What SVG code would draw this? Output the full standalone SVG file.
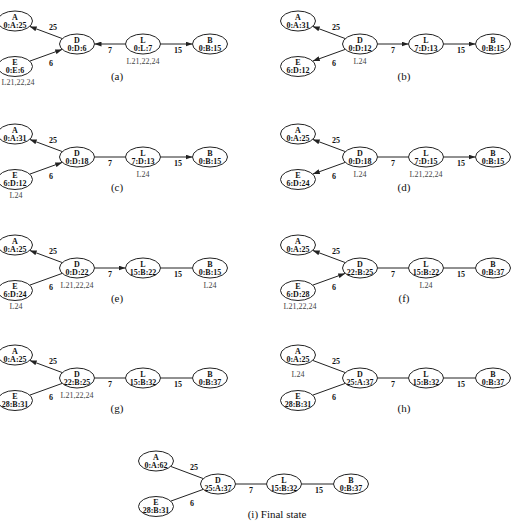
<svg xmlns="http://www.w3.org/2000/svg" width="517" height="527" viewBox="0 0 517 527">
<defs>
<marker id="arr" viewBox="0 0 7 5" refX="7" refY="2.5" markerWidth="7" markerHeight="5" orient="auto" markerUnits="userSpaceOnUse"><path d="M0,0 L7,2.5 L0,5 z" fill="#222"/></marker>
<style>
.node ellipse{fill:#fff;stroke:#222;stroke-width:1}
.nm{font-family:"Liberation Serif",serif;font-size:8px;font-weight:bold;text-anchor:middle;fill:#111}
.sub{font-family:"Liberation Serif",serif;font-size:8px;text-anchor:middle;fill:#444}
.el{font-family:"Liberation Serif",serif;font-size:8px;font-weight:bold;text-anchor:middle;fill:#111}
.cap{font-family:"Liberation Serif",serif;font-size:11px;text-anchor:middle;fill:#111}
.edges line{stroke:#222;stroke-width:1}
.ar{marker-end:url(#arr)}
</style>
</defs>
<rect width="517" height="527" fill="#fff"/>

<!-- (a) -->
<g id="panel-a" transform="translate(0,0)">
<g class="edges">
<line class="ar" x1="62.3" y1="38.6" x2="29.7" y2="26.4"/>
<line class="ar" x1="29.8" y1="61.1" x2="62.2" y2="49.4"/>
<line class="ar" x1="125.5" y1="44" x2="94.5" y2="44"/>
<line class="ar" x1="160.5" y1="44" x2="192.5" y2="44"/>
<text class="el" x="53" y="30">25</text><text class="el" x="51" y="65.5">6</text><text class="el" x="110" y="53">7</text><text class="el" x="178" y="53">15</text>
</g>
<g id="a-A" class="node"><ellipse cx="15" cy="21" rx="17.5" ry="10"/><text class="nm" x="15" y="19.5">A</text><text class="nm" x="15" y="27.5">0:A:25</text></g>
<g id="a-E" class="node"><ellipse cx="15" cy="66.5" rx="17.5" ry="10"/><text class="nm" x="15" y="65">E</text><text class="nm" x="15" y="73">0:E:6</text><text class="sub" x="18" y="85">L21,22,24</text></g>
<g id="a-D" class="node"><ellipse cx="77" cy="44" rx="17.5" ry="10"/><text class="nm" x="77" y="42.5">D</text><text class="nm" x="77" y="50.5">0:D:6</text></g>
<g id="a-L" class="node"><ellipse cx="143" cy="44" rx="17.5" ry="10"/><text class="nm" x="143" y="42.5">L</text><text class="nm" x="143" y="50.5">0:L:7</text><text class="sub" x="143" y="64">L21,22,24</text></g>
<g id="a-B" class="node"><ellipse cx="210" cy="44" rx="17.5" ry="10"/><text class="nm" x="210" y="42.5">B</text><text class="nm" x="210" y="50.5">0:B:15</text></g>
<text class="cap" x="117" y="80">(a)</text>
</g>

<!-- (b) -->
<g id="panel-b" transform="translate(283,0)">
<g class="edges">
<line class="ar" x1="62.3" y1="38.6" x2="29.7" y2="26.4"/>
<line class="ar" x1="62.2" y1="49.4" x2="29.8" y2="61.1"/>
<line class="ar" x1="94.5" y1="44" x2="125.5" y2="44"/>
<line class="ar" x1="160.5" y1="44" x2="192.5" y2="44"/>
<text class="el" x="53" y="30">25</text><text class="el" x="51" y="65.5">6</text><text class="el" x="110" y="53">7</text><text class="el" x="178" y="53">15</text>
</g>
<g id="b-A" class="node"><ellipse cx="15" cy="21" rx="17.5" ry="10"/><text class="nm" x="15" y="19.5">A</text><text class="nm" x="15" y="27.5">0:A:31</text></g>
<g id="b-E" class="node"><ellipse cx="15" cy="66.5" rx="17.5" ry="10"/><text class="nm" x="15" y="65">E</text><text class="nm" x="15" y="73">6:D:12</text></g>
<g id="b-D" class="node"><ellipse cx="77" cy="44" rx="17.5" ry="10"/><text class="nm" x="77" y="42.5">D</text><text class="nm" x="77" y="50.5">0:D:12</text><text class="sub" x="77" y="64">L24</text></g>
<g id="b-L" class="node"><ellipse cx="143" cy="44" rx="17.5" ry="10"/><text class="nm" x="143" y="42.5">L</text><text class="nm" x="143" y="50.5">7:D:13</text></g>
<g id="b-B" class="node"><ellipse cx="210" cy="44" rx="17.5" ry="10"/><text class="nm" x="210" y="42.5">B</text><text class="nm" x="210" y="50.5">0:B:15</text></g>
<text class="cap" x="121" y="80">(b)</text>
</g>

<!-- (c) -->
<g id="panel-c" transform="translate(0,113)">
<g class="edges">
<line class="ar" x1="62.3" y1="38.6" x2="29.7" y2="26.4"/>
<line class="ar" x1="29.8" y1="61.1" x2="62.2" y2="49.4"/>
<line x1="94.5" y1="44" x2="125.5" y2="44"/>
<line class="ar" x1="160.5" y1="44" x2="192.5" y2="44"/>
<text class="el" x="53" y="30">25</text><text class="el" x="51" y="65.5">6</text><text class="el" x="110" y="53">7</text><text class="el" x="178" y="53">15</text>
</g>
<g id="c-A" class="node"><ellipse cx="15" cy="21" rx="17.5" ry="10"/><text class="nm" x="15" y="19.5">A</text><text class="nm" x="15" y="27.5">0:A:31</text></g>
<g id="c-E" class="node"><ellipse cx="15" cy="66.5" rx="17.5" ry="10"/><text class="nm" x="15" y="65">E</text><text class="nm" x="15" y="73">6:D:12</text><text class="sub" x="16" y="85">L24</text></g>
<g id="c-D" class="node"><ellipse cx="77" cy="44" rx="17.5" ry="10"/><text class="nm" x="77" y="42.5">D</text><text class="nm" x="77" y="50.5">0:D:18</text></g>
<g id="c-L" class="node"><ellipse cx="143" cy="44" rx="17.5" ry="10"/><text class="nm" x="143" y="42.5">L</text><text class="nm" x="143" y="50.5">7:D:13</text><text class="sub" x="143" y="64">L24</text></g>
<g id="c-B" class="node"><ellipse cx="210" cy="44" rx="17.5" ry="10"/><text class="nm" x="210" y="42.5">B</text><text class="nm" x="210" y="50.5">0:B:15</text></g>
<text class="cap" x="117" y="78">(c)</text>
</g>

<!-- (d) -->
<g id="panel-d" transform="translate(283,113)">
<g class="edges">
<line class="ar" x1="62.3" y1="38.6" x2="29.7" y2="26.4"/>
<line class="ar" x1="62.2" y1="49.4" x2="29.8" y2="61.1"/>
<line x1="94.5" y1="44" x2="125.5" y2="44"/>
<line class="ar" x1="160.5" y1="44" x2="192.5" y2="44"/>
<text class="el" x="53" y="30">25</text><text class="el" x="51" y="65.5">6</text><text class="el" x="110" y="53">7</text><text class="el" x="178" y="53">15</text>
</g>
<g id="d-A" class="node"><ellipse cx="15" cy="21" rx="17.5" ry="10"/><text class="nm" x="15" y="19.5">A</text><text class="nm" x="15" y="27.5">0:A:25</text></g>
<g id="d-E" class="node"><ellipse cx="15" cy="66.5" rx="17.5" ry="10"/><text class="nm" x="15" y="65">E</text><text class="nm" x="15" y="73">6:D:24</text></g>
<g id="d-D" class="node"><ellipse cx="77" cy="44" rx="17.5" ry="10"/><text class="nm" x="77" y="42.5">D</text><text class="nm" x="77" y="50.5">0:D:18</text><text class="sub" x="77" y="64">L24</text></g>
<g id="d-L" class="node"><ellipse cx="143" cy="44" rx="17.5" ry="10"/><text class="nm" x="143" y="42.5">L</text><text class="nm" x="143" y="50.5">7:D:15</text><text class="sub" x="143" y="64">L21,22,24</text></g>
<g id="d-B" class="node"><ellipse cx="210" cy="44" rx="17.5" ry="10"/><text class="nm" x="210" y="42.5">B</text><text class="nm" x="210" y="50.5">0:B:15</text></g>
<text class="cap" x="121" y="78">(d)</text>
</g>

<!-- (e) -->
<g id="panel-e" transform="translate(0,224)">
<g class="edges">
<line class="ar" x1="62.3" y1="38.6" x2="29.7" y2="26.4"/>
<line x1="29.8" y1="61.1" x2="62.2" y2="49.4"/>
<line class="ar" x1="94.5" y1="44" x2="125.5" y2="44"/>
<line x1="160.5" y1="44" x2="192.5" y2="44"/>
<text class="el" x="53" y="30">25</text><text class="el" x="51" y="65.5">6</text><text class="el" x="110" y="53">7</text><text class="el" x="178" y="53">15</text>
</g>
<g id="e-A" class="node"><ellipse cx="15" cy="21" rx="17.5" ry="10"/><text class="nm" x="15" y="19.5">A</text><text class="nm" x="15" y="27.5">0:A:25</text></g>
<g id="e-E" class="node"><ellipse cx="15" cy="66.5" rx="17.5" ry="10"/><text class="nm" x="15" y="65">E</text><text class="nm" x="15" y="73">6:D:24</text><text class="sub" x="16" y="85">L24</text></g>
<g id="e-D" class="node"><ellipse cx="77" cy="44" rx="17.5" ry="10"/><text class="nm" x="77" y="42.5">D</text><text class="nm" x="77" y="50.5">0:D:22</text><text class="sub" x="77" y="64">L21,22,24</text></g>
<g id="e-L" class="node"><ellipse cx="143" cy="44" rx="17.5" ry="10"/><text class="nm" x="143" y="42.5">L</text><text class="nm" x="143" y="50.5">15:B:22</text></g>
<g id="e-B" class="node"><ellipse cx="210" cy="44" rx="17.5" ry="10"/><text class="nm" x="210" y="42.5">B</text><text class="nm" x="210" y="50.5">0:B:15</text><text class="sub" x="210" y="64">L24</text></g>
<text class="cap" x="117" y="78">(e)</text>
</g>

<!-- (f) -->
<g id="panel-f" transform="translate(283,224)">
<g class="edges">
<line class="ar" x1="62.3" y1="38.6" x2="29.7" y2="26.4"/>
<line class="ar" x1="29.8" y1="61.1" x2="62.2" y2="49.4"/>
<line x1="94.5" y1="44" x2="125.5" y2="44"/>
<line x1="160.5" y1="44" x2="192.5" y2="44"/>
<text class="el" x="53" y="30">25</text><text class="el" x="51" y="65.5">6</text><text class="el" x="110" y="53">7</text><text class="el" x="178" y="53">15</text>
</g>
<g id="f-A" class="node"><ellipse cx="15" cy="21" rx="17.5" ry="10"/><text class="nm" x="15" y="19.5">A</text><text class="nm" x="15" y="27.5">0:A:25</text></g>
<g id="f-E" class="node"><ellipse cx="15" cy="66.5" rx="17.5" ry="10"/><text class="nm" x="15" y="65">E</text><text class="nm" x="15" y="73">6:D:28</text><text class="sub" x="17" y="85">L21,22,24</text></g>
<g id="f-D" class="node"><ellipse cx="77" cy="44" rx="17.5" ry="10"/><text class="nm" x="77" y="42.5">D</text><text class="nm" x="77" y="50.5">22:B:25</text></g>
<g id="f-L" class="node"><ellipse cx="143" cy="44" rx="17.5" ry="10"/><text class="nm" x="143" y="42.5">L</text><text class="nm" x="143" y="50.5">15:B:22</text><text class="sub" x="143" y="64">L24</text></g>
<g id="f-B" class="node"><ellipse cx="210" cy="44" rx="17.5" ry="10"/><text class="nm" x="210" y="42.5">B</text><text class="nm" x="210" y="50.5">0:B:37</text></g>
<text class="cap" x="121" y="78">(f)</text>
</g>

<!-- (g) -->
<g id="panel-g" transform="translate(0,334)">
<g class="edges">
<line class="ar" x1="62.3" y1="38.6" x2="29.7" y2="26.4"/>
<line x1="29.8" y1="61.1" x2="62.2" y2="49.4"/>
<line x1="94.5" y1="44" x2="125.5" y2="44"/>
<line x1="160.5" y1="44" x2="192.5" y2="44"/>
<text class="el" x="53" y="30">25</text><text class="el" x="51" y="65.5">6</text><text class="el" x="110" y="53">7</text><text class="el" x="178" y="53">15</text>
</g>
<g id="g-A" class="node"><ellipse cx="15" cy="21" rx="17.5" ry="10"/><text class="nm" x="15" y="19.5">A</text><text class="nm" x="15" y="27.5">0:A:25</text></g>
<g id="g-E" class="node"><ellipse cx="15" cy="66.5" rx="17.5" ry="10"/><text class="nm" x="15" y="65">E</text><text class="nm" x="15" y="73">28:B:31</text></g>
<g id="g-D" class="node"><ellipse cx="77" cy="44" rx="17.5" ry="10"/><text class="nm" x="77" y="42.5">D</text><text class="nm" x="77" y="50.5">22:B:25</text><text class="sub" x="77" y="64">L21,22,24</text></g>
<g id="g-L" class="node"><ellipse cx="143" cy="44" rx="17.5" ry="10"/><text class="nm" x="143" y="42.5">L</text><text class="nm" x="143" y="50.5">15:B:32</text></g>
<g id="g-B" class="node"><ellipse cx="210" cy="44" rx="17.5" ry="10"/><text class="nm" x="210" y="42.5">B</text><text class="nm" x="210" y="50.5">0:B:37</text></g>
<text class="cap" x="117" y="78">(g)</text>
</g>

<!-- (h) -->
<g id="panel-h" transform="translate(283,334)">
<g class="edges">
<line x1="62.3" y1="38.6" x2="29.7" y2="26.4"/>
<line x1="29.8" y1="61.1" x2="62.2" y2="49.4"/>
<line x1="94.5" y1="44" x2="125.5" y2="44"/>
<line x1="160.5" y1="44" x2="192.5" y2="44"/>
<text class="el" x="53" y="30">25</text><text class="el" x="51" y="65.5">6</text><text class="el" x="110" y="53">7</text><text class="el" x="178" y="53">15</text>
</g>
<g id="h-A" class="node"><ellipse cx="15" cy="21" rx="17.5" ry="10"/><text class="nm" x="15" y="19.5">A</text><text class="nm" x="15" y="27.5">0:A:25</text><text class="sub" x="15" y="43">L24</text></g>
<g id="h-E" class="node"><ellipse cx="15" cy="66.5" rx="17.5" ry="10"/><text class="nm" x="15" y="65">E</text><text class="nm" x="15" y="73">28:B:31</text></g>
<g id="h-D" class="node"><ellipse cx="77" cy="44" rx="17.5" ry="10"/><text class="nm" x="77" y="42.5">D</text><text class="nm" x="77" y="50.5">25:A:37</text></g>
<g id="h-L" class="node"><ellipse cx="143" cy="44" rx="17.5" ry="10"/><text class="nm" x="143" y="42.5">L</text><text class="nm" x="143" y="50.5">15:B:32</text></g>
<g id="h-B" class="node"><ellipse cx="210" cy="44" rx="17.5" ry="10"/><text class="nm" x="210" y="42.5">B</text><text class="nm" x="210" y="50.5">0:B:37</text></g>
<text class="cap" x="121" y="78">(h)</text>
</g>

<!-- (i) -->
<g id="panel-i" transform="translate(141,440)">
<g class="edges">
<line x1="62.3" y1="38.6" x2="29.7" y2="26.4"/>
<line x1="29.8" y1="61.1" x2="62.2" y2="49.4"/>
<line x1="94.5" y1="44" x2="125.5" y2="44"/>
<line x1="160.5" y1="44" x2="192.5" y2="44"/>
<text class="el" x="53" y="30">25</text><text class="el" x="51" y="65.5">6</text><text class="el" x="110" y="53">7</text><text class="el" x="178" y="53">15</text>
</g>
<g id="i-A" class="node"><ellipse cx="15" cy="21" rx="17.5" ry="10"/><text class="nm" x="15" y="19.5">A</text><text class="nm" x="15" y="27.5">0:A:62</text></g>
<g id="i-E" class="node"><ellipse cx="15" cy="66.5" rx="17.5" ry="10"/><text class="nm" x="15" y="65">E</text><text class="nm" x="15" y="73">28:B:31</text></g>
<g id="i-D" class="node"><ellipse cx="77" cy="44" rx="17.5" ry="10"/><text class="nm" x="77" y="42.5">D</text><text class="nm" x="77" y="50.5">25:A:37</text></g>
<g id="i-L" class="node"><ellipse cx="143" cy="44" rx="17.5" ry="10"/><text class="nm" x="143" y="42.5">L</text><text class="nm" x="143" y="50.5">15:B:32</text></g>
<g id="i-B" class="node"><ellipse cx="210" cy="44" rx="17.5" ry="10"/><text class="nm" x="210" y="42.5">B</text><text class="nm" x="210" y="50.5">0:B:37</text></g>
<text class="cap" x="136" y="78">(i) Final state</text>
</g>
</svg>
